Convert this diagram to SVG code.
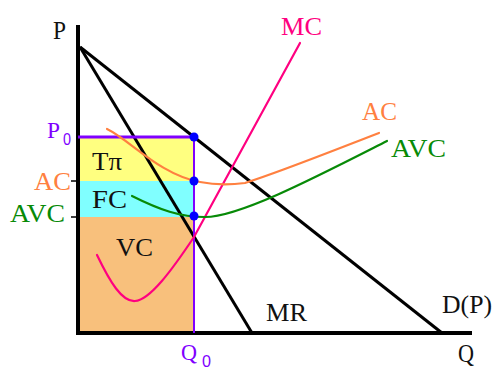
<svg xmlns="http://www.w3.org/2000/svg" width="492" height="369" viewBox="0 0 492 369">
<style>
text{font-family:"Liberation Serif","Times New Roman",serif;font-size:25px;fill:#111}
.pur{fill:#8000ff}
.org{fill:#ff8040}
.grn{fill:#078a07}
.pnk{fill:#ff0080}
.ax{stroke:#000;stroke-width:4;fill:none}
.ln{stroke:#000;stroke-width:3;fill:none}
.cv{fill:none;stroke-width:2.2;stroke-linecap:round}
.dot{fill:#0000ff}
.sub{font-size:16px;font-family:"Liberation Sans",Arial,sans-serif}
</style>
<rect width="492" height="369" fill="#fff"/>
<g id="areas">
<rect x="80" y="137" width="114" height="44" fill="#ffff80"/>
<rect x="80" y="181" width="114" height="36" fill="#80ffff"/>
<rect x="80" y="217" width="114" height="116" fill="#f8c07c"/>
</g>
<g id="connectors">
<path id="axis-p" class="ax" d="M78,25 V335"/>
<path id="axis-q" class="ax" d="M76,333 H472"/>
<path id="demand" class="ln" d="M80,47 L442,333"/>
<path id="mr" class="ln" d="M80,47 L252,333"/>
<path id="p0-line" d="M78,137 H194" stroke="#8000ff" stroke-width="3"/>
<path id="q0-line" d="M194,137 V333" stroke="#8000ff" stroke-width="2"/>
<path id="mc" class="cv" stroke="#ff0080" d="M97,255 C110,282 122,302 135,301 C150,300 172,270 194,237 L300,43"/>
<path id="ac" class="cv" stroke="#ff8040" d="M107,129 C130,140 160,175 200,182 C215,185 230,185 245,183 C280,172 340,148 379,133"/>
<path id="avc" class="cv" stroke="#078a07" d="M132,196 C160,210 180,217 205,217 C240,217 320,175 387,141"/>
<path id="ticks" d="M71,181 H78 M71,217 H78" stroke="#000" stroke-width="1.5"/>
</g>
<g id="points">
<circle class="dot" cx="194" cy="137" r="4.5"/>
<circle class="dot" cx="194" cy="181" r="4.5"/>
<circle class="dot" cx="194" cy="216" r="4.5"/>
</g>
<g id="labels">
<text x="53" y="39" textLength="13" lengthAdjust="spacingAndGlyphs">P</text>
<text class="pnk" x="281" y="35" textLength="41" lengthAdjust="spacingAndGlyphs">MC</text>
<text class="org" x="362" y="120" textLength="35" lengthAdjust="spacingAndGlyphs">AC</text>
<text class="grn" x="391" y="157" textLength="55" lengthAdjust="spacingAndGlyphs">AVC</text>
<text class="pur" x="47" y="138" style="font-size:23px" textLength="13" lengthAdjust="spacingAndGlyphs">P</text>
<text class="pur sub" x="63" y="145" textLength="8" lengthAdjust="spacingAndGlyphs">0</text>
<text class="org" x="34" y="190" textLength="37" lengthAdjust="spacingAndGlyphs">AC</text>
<text class="grn" x="10" y="222" textLength="55" lengthAdjust="spacingAndGlyphs">AVC</text>
<text x="92" y="170" textLength="30" lengthAdjust="spacingAndGlyphs">Tπ</text>
<text x="92" y="208" textLength="35" lengthAdjust="spacingAndGlyphs">FC</text>
<text x="116" y="256" textLength="37" lengthAdjust="spacingAndGlyphs">VC</text>
<text x="266" y="321" textLength="41" lengthAdjust="spacingAndGlyphs">MR</text>
<text x="442" y="313" textLength="50" lengthAdjust="spacingAndGlyphs">D(P)</text>
<text x="458" y="362" textLength="16" lengthAdjust="spacingAndGlyphs">Q</text>
<text class="pur" x="181" y="360" style="font-size:23px" textLength="16" lengthAdjust="spacingAndGlyphs">Q</text>
<text class="pur sub" x="202" y="367" textLength="9" lengthAdjust="spacingAndGlyphs">0</text>
</g>
</svg>
